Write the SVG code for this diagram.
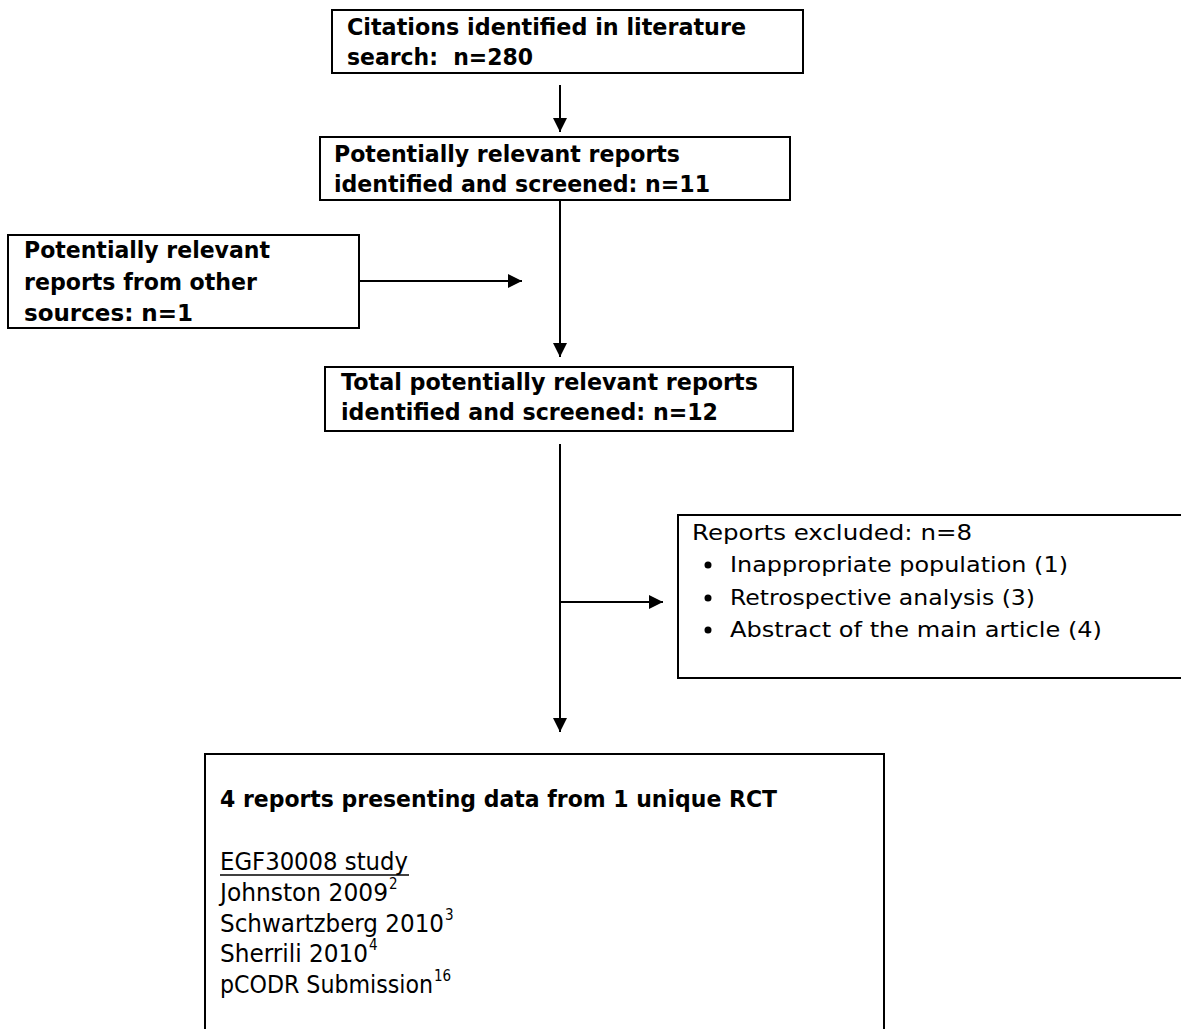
<svg xmlns="http://www.w3.org/2000/svg" width="1181" height="1029" viewBox="0 0 1181 1029">
<style>
.box{fill:#fff;stroke:#000;stroke-width:2}
.b{font-family:"DejaVu Sans","Liberation Sans",sans-serif;font-weight:bold;font-size:23px;fill:#000}
.r{font-family:"DejaVu Sans","Liberation Sans",sans-serif;font-size:22px;fill:#000}
.c{font-family:"DejaVu Sans Condensed","DejaVu Sans",sans-serif;font-size:24px;fill:#000}
.s{font-family:"DejaVu Sans Condensed","DejaVu Sans",sans-serif;font-size:15px;fill:#000}
.ln{stroke:#000;stroke-width:2;fill:none}
</style>
<defs>
<marker id="ah2" viewBox="0 0 10 10" refX="10" refY="5" markerWidth="14" markerHeight="14" markerUnits="userSpaceOnUse" orient="auto"><path d="M0,0L10,5L0,10z" fill="#000"/></marker>
</defs>
<rect width="1181" height="1029" fill="#fff"/>
<g id="connectors">
<line class="ln" x1="560" y1="85" x2="560" y2="132" marker-end="url(#ah2)"/>
<line class="ln" x1="560" y1="200" x2="560" y2="357" marker-end="url(#ah2)"/>
<line class="ln" x1="359" y1="281" x2="522" y2="281" marker-end="url(#ah2)"/>
<line class="ln" x1="560" y1="444" x2="560" y2="732" marker-end="url(#ah2)"/>
<line class="ln" x1="560" y1="602" x2="663" y2="602" marker-end="url(#ah2)"/>
</g>
<g id="n1">
<rect class="box" x="332" y="10" width="471" height="63"/>
<text class="b" x="347" y="35" textLength="399" lengthAdjust="spacingAndGlyphs">Citations identified in literature</text>
<text class="b" x="347" y="65" textLength="186" lengthAdjust="spacingAndGlyphs" xml:space="preserve">search:  n=280</text>
</g>
<g id="n2">
<rect class="box" x="320" y="137" width="470" height="63"/>
<text class="b" x="334" y="162" textLength="346" lengthAdjust="spacingAndGlyphs">Potentially relevant reports</text>
<text class="b" x="334" y="192" textLength="376" lengthAdjust="spacingAndGlyphs">identified and screened: n=11</text>
</g>
<g id="n3">
<rect class="box" x="8" y="235" width="351" height="93"/>
<text class="b" x="24" y="258" textLength="246" lengthAdjust="spacingAndGlyphs">Potentially relevant</text>
<text class="b" x="24" y="290" textLength="233" lengthAdjust="spacingAndGlyphs">reports from other</text>
<text class="b" x="24" y="321" textLength="169" lengthAdjust="spacingAndGlyphs">sources: n=1</text>
</g>
<g id="n4">
<rect class="box" x="325" y="367" width="468" height="64"/>
<text class="b" x="341" y="390" textLength="417" lengthAdjust="spacingAndGlyphs">Total potentially relevant reports</text>
<text class="b" x="341" y="420" textLength="377" lengthAdjust="spacingAndGlyphs">identified and screened: n=12</text>
</g>
<g id="n5">
<rect class="box" x="678" y="515" width="510" height="163"/>
<text class="r" x="692" y="540" textLength="280" lengthAdjust="spacingAndGlyphs" font-size="23">Reports excluded: n=8</text>
<circle cx="708" cy="565" r="3.5" fill="#000"/>
<circle cx="708" cy="598" r="3.5" fill="#000"/>
<circle cx="708" cy="630" r="3.5" fill="#000"/>
<text class="r" x="730" y="572" textLength="338" lengthAdjust="spacingAndGlyphs">Inappropriate population (1)</text>
<text class="r" x="730" y="605" textLength="305" lengthAdjust="spacingAndGlyphs">Retrospective analysis (3)</text>
<text class="r" x="730" y="637" textLength="372" lengthAdjust="spacingAndGlyphs">Abstract of the main article (4)</text>
</g>
<g id="n6">
<rect class="box" x="205" y="754" width="679" height="290"/>
<text class="b" x="220" y="807" font-size="21" textLength="557" lengthAdjust="spacingAndGlyphs">4 reports presenting data from 1 unique RCT</text>
<text class="c" x="220" y="870" textLength="188" lengthAdjust="spacingAndGlyphs">EGF30008 study</text>
<line x1="220" y1="875" x2="409" y2="875" stroke="#000" stroke-width="1.5"/>
<text class="c" x="220" y="901" textLength="168" lengthAdjust="spacingAndGlyphs">Johnston 2009</text>
<text class="s" x="389" y="889">2</text>
<text class="c" x="220" y="932" textLength="224" lengthAdjust="spacingAndGlyphs">Schwartzberg 2010</text>
<text class="s" x="445" y="920">3</text>
<text class="c" x="220" y="962" textLength="148" lengthAdjust="spacingAndGlyphs">Sherrili 2010</text>
<text class="s" x="369" y="950">4</text>
<text class="c" x="220" y="993" textLength="213" lengthAdjust="spacingAndGlyphs">pCODR Submission</text>
<text class="s" x="434" y="981">16</text>
</g>
</svg>
